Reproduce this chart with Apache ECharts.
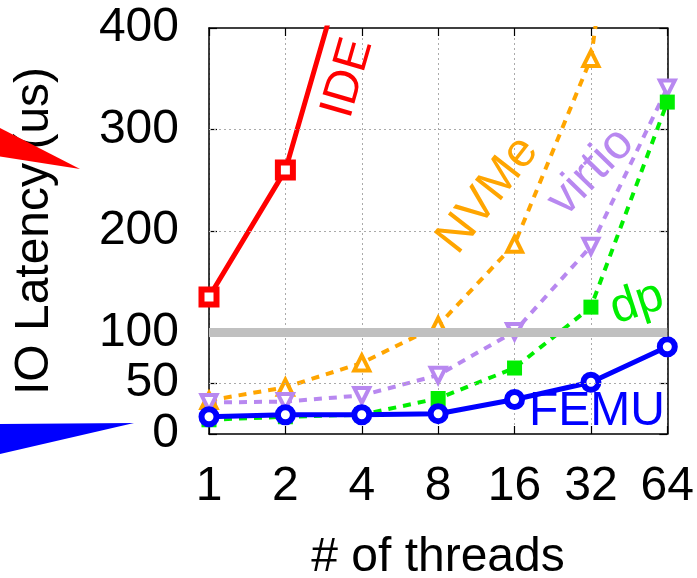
<!DOCTYPE html>
<html><head><meta charset="utf-8">
<script src="https://cdn.jsdelivr.net/npm/echarts@6/dist/echarts.min.js"></script>
<style>html,body{margin:0;padding:0;background:#fff}#c{width:697px;height:578px}</style>
</head><body><div id="c"></div>
<script>
const threads = ['1', '2', '4', '8', '16', '32', '64'];
const ide = [135, 260, 520, null, null, null, null];
const nvme = [33, 46, 70, 107, 187, 370, 900];
const virtio = [31, 32, 38, 58, 101, 185, 341];
const dp = [14, 17, 19, 35, 65, 125, 327];
const femu = [17, 19, 19, 20, 34, 51, 86];
const yTicks = [0, 50, 100, 200, 300, 400];
const gridValues = [50, 200, 300];
const refValue = 100;

const FONT = 'Liberation Sans, Arial, Helvetica, sans-serif';
const chart = echarts.init(document.getElementById('c'), null, {renderer: 'canvas'});

const axisLine = {show: true, onZero: false, lineStyle: {color: '#000', width: 1.5}};
const tick = {show: true, inside: true, length: 8, lineStyle: {color: '#000', width: 1.2}};

function lineSeries(name, data, color, symbol, opts) {
  return Object.assign({
    name, type: 'line', data, z: 3,
    connectNulls: false, clip: true,
    symbol, symbolSize: 15,
    lineStyle: {color, width: 4, type: [8, 7]},
    itemStyle: {color: '#fff', borderColor: color, borderWidth: 4},
    emphasis: {disabled: true}
  }, opts || {});
}

const option = {
  animation: false,
  backgroundColor: '#fff',
  textStyle: {fontFamily: FONT},
  grid: {left: 209, right: 27, top: 28, bottom: 144, containLabel: false},
  xAxis: [
    {type: 'category', data: threads, boundaryGap: false, position: 'bottom',
     axisLine, axisTick: Object.assign({alignWithLabel: true}, tick),
     axisLabel: {interval: 0, fontSize: 48, color: '#000', margin: 29, fontFamily: FONT},
     splitLine: {show: true, lineStyle: {type: [2, 3], color: '#aaa', width: 1}}},
    {type: 'category', data: threads, boundaryGap: false, position: 'top',
     axisLine, axisTick: tick, axisLabel: {show: false}, splitLine: {show: false}}
  ],
  yAxis: [
    {type: 'value', min: 0, max: 400, interval: 50, position: 'left',
     axisLine, axisTick: Object.assign({customValues: yTicks}, tick),
     axisLabel: {customValues: yTicks, fontSize: 48, color: '#000', margin: 30, fontFamily: FONT},
     splitLine: {show: false}},
    {type: 'value', min: 0, max: 400, interval: 50, position: 'right',
     axisLine, axisTick: Object.assign({customValues: yTicks}, tick),
     axisLabel: {show: false}, splitLine: {show: false}}
  ],
  series: [
    {name: 'grid', type: 'line', data: [], z: 1, silent: true,
     markLine: {silent: true, symbol: 'none', label: {show: false}, animation: false,
       data: gridValues.map(v => ({yAxis: v, lineStyle: {type: [2, 3], color: '#aaa', width: 1}}))
         .concat([{yAxis: refValue, lineStyle: {type: 'solid', color: '#c0c0c0', width: 9}}])}},
    lineSeries('IDE', ide, '#ff0000', 'rect', {
      symbolSize: 15, lineStyle: {color: '#ff0000', width: 5, type: 'solid'},
      itemStyle: {color: '#fff', borderColor: '#ff0000', borderWidth: 6}}),
    lineSeries('NVMe', nvme, '#ffa500', 'triangle'),
    lineSeries('virtio', virtio, '#b888f0', 'triangle', {symbolRotate: 180}),
    lineSeries('dp', dp, '#00ee00', 'rect', {symbolSize: 15,
      itemStyle: {color: '#00ee00', borderWidth: 0}}),
    lineSeries('FEMU', femu, '#0000ff', 'circle', {
      symbolSize: 15, z: 4, lineStyle: {color: '#0000ff', width: 5, type: 'solid'},
      itemStyle: {color: '#fff', borderColor: '#0000ff', borderWidth: 6}})
  ],
  graphic: [
    {type: 'polygon', shape: {points: [[-4, 126], [80, 169], [-4, 156]]}, style: {fill: '#ff0000'}, z: 10},
    {type: 'polygon', shape: {points: [[-4, 424], [134, 423], [-4, 455]]}, style: {fill: '#0000ff'}, z: 10},
    {type: 'text', x: 35, y: 231, rotation: Math.PI / 2,
     style: {text: 'IO Latency (us)', fill: '#000', font: '48px ' + FONT, align: 'center', verticalAlign: 'middle'}},
    {type: 'text', x: 438, y: 558,
     style: {text: '# of threads', fill: '#000', font: '48px ' + FONT, align: 'center', verticalAlign: 'middle'}},
    {type: 'text', x: 348, y: 78, rotation: 74 * Math.PI / 180, z: 10,
     style: {text: 'IDE', fill: '#ff0000', font: '48px ' + FONT, align: 'center', verticalAlign: 'middle'}},
    {type: 'text', x: 488, y: 195, rotation: 52 * Math.PI / 180, z: 10,
     style: {text: 'NVMe', fill: '#ffa500', font: '48px ' + FONT, align: 'center', verticalAlign: 'middle'}},
    {type: 'text', x: 591, y: 172, rotation: 46 * Math.PI / 180, z: 10,
     style: {text: 'virtio', fill: '#b888f0', font: '48px ' + FONT, align: 'center', verticalAlign: 'middle'}},
    {type: 'text', x: 637, y: 303, rotation: 18 * Math.PI / 180, z: 10,
     style: {text: 'dp', fill: '#00ee00', font: '48px ' + FONT, align: 'center', verticalAlign: 'middle'}},
    {type: 'text', x: 597, y: 412, z: 10,
     style: {text: 'FEMU', fill: '#0000ff', font: '48px ' + FONT, align: 'center', verticalAlign: 'middle'}}
  ]
};
chart.setOption(option);
</script></body></html>
